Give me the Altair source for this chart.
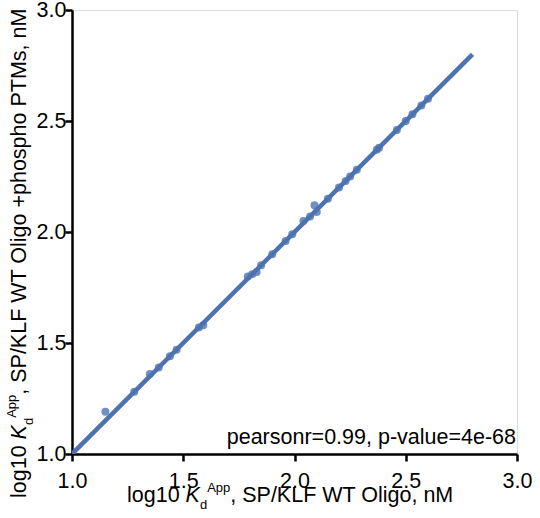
import altair as alt
import pandas as pd

# Data
kd_wt = [1.15, 1.28, 1.35, 1.39, 1.44, 1.47, 1.57, 1.59, 1.79, 1.81, 1.83, 1.85,
         1.90, 1.96, 1.99, 2.04, 2.07, 2.09, 2.10, 2.15, 2.20, 2.23, 2.25, 2.28,
         2.37, 2.38, 2.46, 2.50, 2.53, 2.57, 2.60]
kd_phospho = [1.19, 1.28, 1.36, 1.39, 1.44, 1.47, 1.57, 1.58, 1.80, 1.81, 1.82, 1.85,
              1.90, 1.96, 1.99, 2.05, 2.07, 2.12, 2.09, 2.15, 2.20, 2.23, 2.25, 2.28,
              2.37, 2.38, 2.46, 2.50, 2.53, 2.57, 2.60]
fit_x = [1.0, 2.8]
fit_y = [1.0, 2.8]
tick_values = [1.0, 1.5, 2.0, 2.5, 3.0]
annotation = "pearsonr=0.99, p-value=4e-68"

FONT = "Liberation Sans"
BLUE = "#4C72B0"
FS = 21.5
FS_SMALL = 13

pts = pd.DataFrame({"x": kd_wt, "y": kd_phospho})
fit = pd.DataFrame({"x": fit_x, "y": fit_y})

W, H = 445, 444
LEFT, TOP = 72, 10

axis_common = dict(
    values=tick_values, format=".1f", title=None, grid=False,
    domainColor="black", domainWidth=2.5, tickColor="black", tickWidth=2.5,
    tickSize=7, labelFontSize=FS, labelFont=FONT, labelColor="black",
    labelFlush=False, labelOverlap=False, labelBound=False,
)
xs = alt.Scale(domain=[1.0, 3.0], nice=False, zero=False)
ys = alt.Scale(domain=[1.0, 3.0], nice=False, zero=False)

xenc = alt.X("x:Q", scale=xs, axis=alt.Axis(labelPadding=9, **axis_common))
yenc = alt.Y("y:Q", scale=ys, axis=alt.Axis(labelPadding=-1, **axis_common))

line = alt.Chart(fit).mark_line(color=BLUE, strokeWidth=4.5, clip=True).encode(x=xenc, y=yenc)
points = alt.Chart(pts).mark_circle(color=BLUE, size=64, opacity=0.8).encode(x=xenc, y=yenc)

one = pd.DataFrame({"a": [0]})

def txt(text, xa, ya, size=FS, style="normal", align="left", angle=0):
    kw = dict(text=text, font=FONT, fontSize=size, fontStyle=style, color="black",
              align=align, baseline="alphabetic")
    if angle:
        kw["angle"] = angle
    return alt.Chart(one).mark_text(**kw).encode(
        x=alt.value(xa - LEFT), y=alt.value(ya - TOP))

# x-axis title pieces
x0, xb = 127, 502
w_log = 2.724 * FS
w_K = 0.667 * FS
w_d = 0.556 * FS_SMALL
w_App = 1.779 * FS_SMALL
xt = [
    txt("log10 ", x0, xb),
    txt("K", x0 + w_log, xb, style="italic"),
    txt("d", x0 + w_log + w_K, xb + 7, size=FS_SMALL),
    txt("App", x0 + w_log + w_K + w_d, xb - 10, size=FS_SMALL),
    txt(", SP/KLF WT Oligo, nM", x0 + w_log + w_K + w_d + w_App, xb),
]

# y-axis title pieces (rotated)
y0, yb = 498, 26
yt = [
    txt("log10 ", yb, y0, angle=270),
    txt("K", yb, y0 - w_log, style="italic", angle=270),
    txt("d", yb + 7, y0 - w_log - w_K, size=FS_SMALL, angle=270),
    txt("App", yb - 10, y0 - w_log - w_K - w_d, size=FS_SMALL, angle=270),
    txt(", SP/KLF WT Oligo +phospho PTMs, nM", yb, y0 - w_log - w_K - w_d - w_App, angle=270),
]

ann = txt(annotation, 516, 444, align="right")

chart = alt.layer(line, points, *xt, *yt, ann).properties(
    width=W, height=H,
    autosize=alt.AutoSizeParams(type="none"),
    padding={"left": LEFT, "top": TOP, "right": 540 - LEFT - W, "bottom": 518 - TOP - H},
).configure_view(strokeWidth=0).configure(background="white")

chart.save("out.html", embed_options={"renderer": "svg", "actions": False})
